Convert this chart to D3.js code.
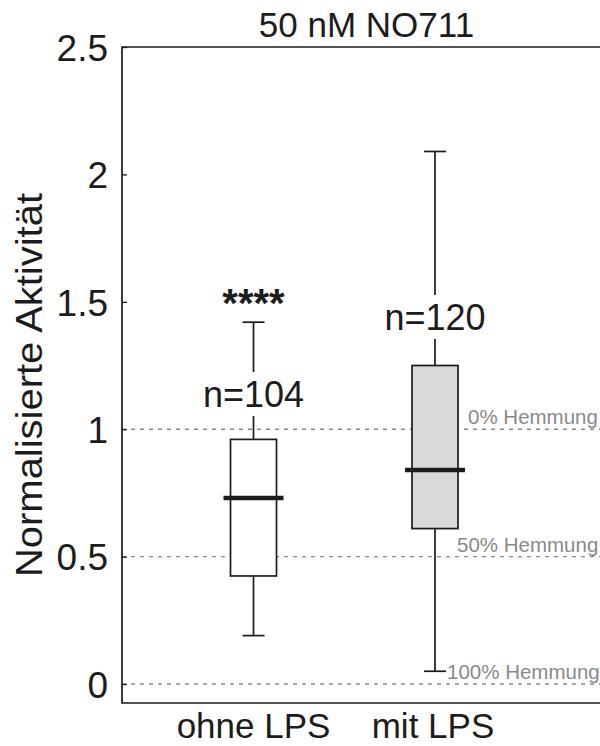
<!DOCTYPE html>
<html><head><meta charset="utf-8">
<script src="https://cdn.jsdelivr.net/npm/d3@7"></script>
<style>body{margin:0;background:#fff}svg{display:block}</style>
</head><body>
<svg id="c" width="600" height="746"></svg>
<script>
const categories = ["ohne LPS", "mit LPS"];
const whiskerLow  = [0.19, 0.05];
const q1          = [0.424, 0.61];
const median      = [0.73, 0.84];
const q3          = [0.96, 1.25];
const whiskerHigh = [1.42, 2.09];
const nLabels     = ["n=104", "n=120"];
const sigLabels   = ["****", ""];
const boxFill     = ["#ffffff", "#d9d9d9"];
const yTicks      = [0, 0.5, 1, 1.5, 2, 2.5];
const refValues   = [1, 0.5, 0];
const refLabels   = ["0% Hemmung", "50% Hemmung", "100% Hemmung"];

const svg = d3.select("#c");
const font = "'Liberation Sans', Arial, sans-serif";
const ink = "#1c1c1c", grey = "#8a8a8a";
const plotLeft = 122, bottomAxis = 703;

const y = d3.scaleLinear().domain([0, 2.5]).range([684, 47]);
const x = d3.scalePoint().domain(categories).range([253.5, 435]);

// reference dashed lines
refValues.forEach(v => {
  svg.append("line").attr("x1", plotLeft).attr("x2", 600)
    .attr("y1", y(v)).attr("y2", y(v))
    .attr("stroke", grey).attr("stroke-width", 1.4).attr("stroke-dasharray", "4,5");
});
const refLabelX = [468, 457, 447];
refLabels.forEach((t, i) => {
  svg.append("text").attr("x", refLabelX[i]).attr("y", y(refValues[i]) - 5)
    .attr("font-family", font).attr("font-size", 20.5).attr("fill", grey).text(t);
});

// frame
svg.append("path").attr("d", `M600,${y(2.5)}H${plotLeft}V${bottomAxis}H600`)
  .attr("fill", "none").attr("stroke", ink).attr("stroke-width", 1.7);

// y axis
const ax = d3.axisLeft(y).tickValues(yTicks).tickFormat(d => String(d)).tickSize(-5).tickPadding(14);
const g = svg.append("g").attr("transform", `translate(${plotLeft},0)`).call(ax);
g.select(".domain").remove();
g.selectAll(".tick line").attr("stroke", ink).attr("stroke-width", 1.3);
g.selectAll(".tick text").attr("font-family", font).attr("font-size", 37).attr("fill", ink)
  .attr("dy", "0.36em");

// boxes
const bw = 46, cw = 22, mw = 60;
categories.forEach((c, i) => {
  const cx = x(c);
  const gg = svg.append("g");
  gg.append("line").attr("x1", cx).attr("x2", cx).attr("y1", y(whiskerHigh[i])).attr("y2", y(q3[i]))
    .attr("stroke", ink).attr("stroke-width", 1.7);
  gg.append("line").attr("x1", cx).attr("x2", cx).attr("y1", y(q1[i])).attr("y2", y(whiskerLow[i]))
    .attr("stroke", ink).attr("stroke-width", 1.7);
  [whiskerHigh[i], whiskerLow[i]].forEach(v => {
    gg.append("line").attr("x1", cx - cw/2).attr("x2", cx + cw/2).attr("y1", y(v)).attr("y2", y(v))
      .attr("stroke", ink).attr("stroke-width", 1.7);
  });
  gg.append("rect").attr("x", cx - bw/2).attr("width", bw).attr("y", y(q3[i]))
    .attr("height", y(q1[i]) - y(q3[i])).attr("fill", boxFill[i])
    .attr("stroke", ink).attr("stroke-width", 1.7);
  gg.append("line").attr("x1", cx - mw/2).attr("x2", cx + mw/2).attr("y1", y(median[i])).attr("y2", y(median[i]))
    .attr("stroke", ink).attr("stroke-width", 4.5);
});

// n labels placed in a gap of the upper whisker
const nBase = [407, 330];
categories.forEach((c, i) => {
  svg.append("rect").attr("x", x(c) - 52).attr("y", nBase[i] - 35).attr("width", 104).attr("height", 44).attr("fill", "#fff");
  svg.append("text").attr("x", x(c)).attr("y", nBase[i]).attr("text-anchor", "middle")
    .attr("font-family", font).attr("font-size", 36).attr("fill", ink).text(nLabels[i]);
  if (sigLabels[i]) {
    svg.append("text").attr("x", x(c)).attr("y", 317).attr("text-anchor", "middle")
      .attr("font-family", font).attr("font-size", 40).attr("font-weight", "bold").attr("fill", ink).text(sigLabels[i]);
  }
});

// x labels
const xLabelX = [253.5, 433];
categories.forEach((c, i) => {
  svg.append("text").attr("x", xLabelX[i]).attr("y", 738).attr("text-anchor", "middle")
    .attr("font-family", font).attr("font-size", 35).attr("fill", ink).text(c);
});

// title
svg.append("text").attr("x", 366.5).attr("y", 37).attr("text-anchor", "middle")
  .attr("font-family", font).attr("font-size", 35).attr("fill", ink).text("50 nM NO711");

// y label
svg.append("text").attr("transform", `translate(42,385) rotate(-90)`)
  .attr("text-anchor", "middle").attr("font-family", font).attr("font-size", 36).attr("fill", ink)
  .attr("textLength", 384).attr("lengthAdjust", "spacingAndGlyphs")
  .text("Normalisierte Aktivität");
</script>
</body></html>
